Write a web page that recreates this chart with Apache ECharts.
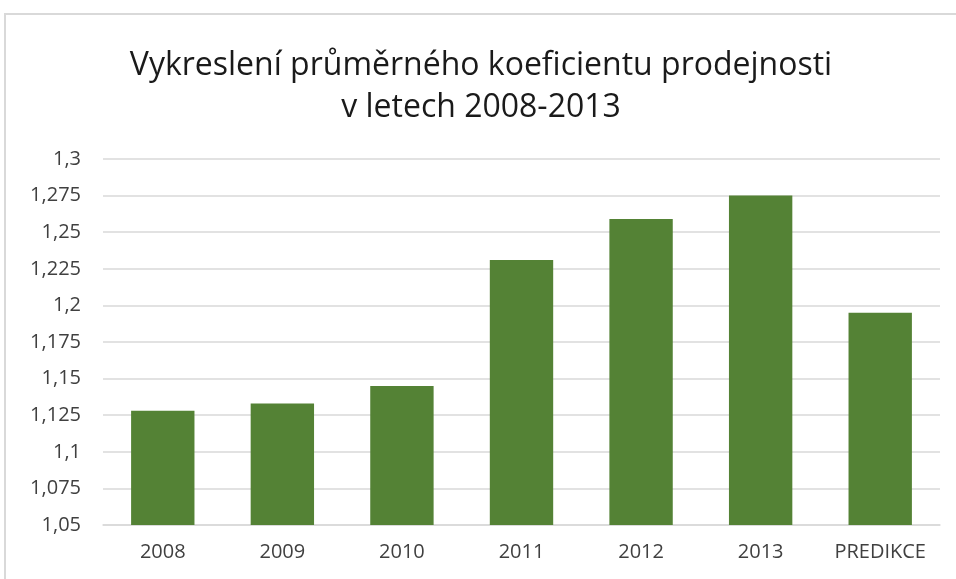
<!DOCTYPE html>
<html>
<head>
<meta charset="utf-8">
<script src="https://cdn.jsdelivr.net/npm/echarts@6/dist/echarts.min.js"></script>
<style>
  html, body { margin: 0; padding: 0; background: #fff; }
  #chart { position: absolute; left: 4px; top: 13px; width: 952px; height: 566px;
           border-left: 2px solid #d9d9d9; border-top: 2px solid #d9d9d9; box-sizing: border-box; }
</style>
</head>
<body>
<div id="chart"></div>
<script>
// roky a predikce
const categories = ['2008', '2009', '2010', '2011', '2012', '2013', 'PREDIKCE'];
// průměrný koeficient prodejnosti
const values = [1.128, 1.133, 1.145, 1.231, 1.259, 1.275, 1.195];
const yMin = 1.05;
const yMax = 1.3;
const yStep = 0.025;

const chartDom = document.getElementById('chart');
const myChart = echarts.init(chartDom);
const font = '"Open Sans", "Noto Sans", sans-serif';

const option = {
  animation: false,
  title: {
    text: 'Vykreslení průměrného koeficientu prodejnosti\nv letech 2008-2013',
    left: 'center',
    top: 25,
    textStyle: {
      fontFamily: font,
      fontSize: 32,
      fontWeight: 'normal',
      color: '#1a1a1a',
      lineHeight: 42
    }
  },
  grid: {
    left: 97,
    right: 16,
    top: 144,
    bottom: 54
  },
  xAxis: {
    type: 'category',
    data: categories,
    axisLine: { show: true, lineStyle: { color: '#d9d9d9', width: 1.5 } },
    axisTick: { show: false },
    axisLabel: {
      fontFamily: font,
      fontSize: 20,
      color: '#404040',
      margin: 17
    }
  },
  yAxis: {
    type: 'value',
    min: yMin,
    max: yMax,
    interval: yStep,
    axisLine: { show: false },
    axisTick: { show: false },
    splitLine: { lineStyle: { color: '#d9d9d9', width: 1.5 } },
    axisLabel: {
      fontFamily: font,
      fontSize: 20,
      color: '#404040',
      margin: 22,
      formatter: v => String(+v.toFixed(3)).replace('.', ',')
    }
  },
  series: [{
    type: 'bar',
    data: values,
    barCategoryGap: '47%',
    itemStyle: { color: '#548235' }
  }]
};

option && myChart.setOption(option);
</script>
</body>
</html>
